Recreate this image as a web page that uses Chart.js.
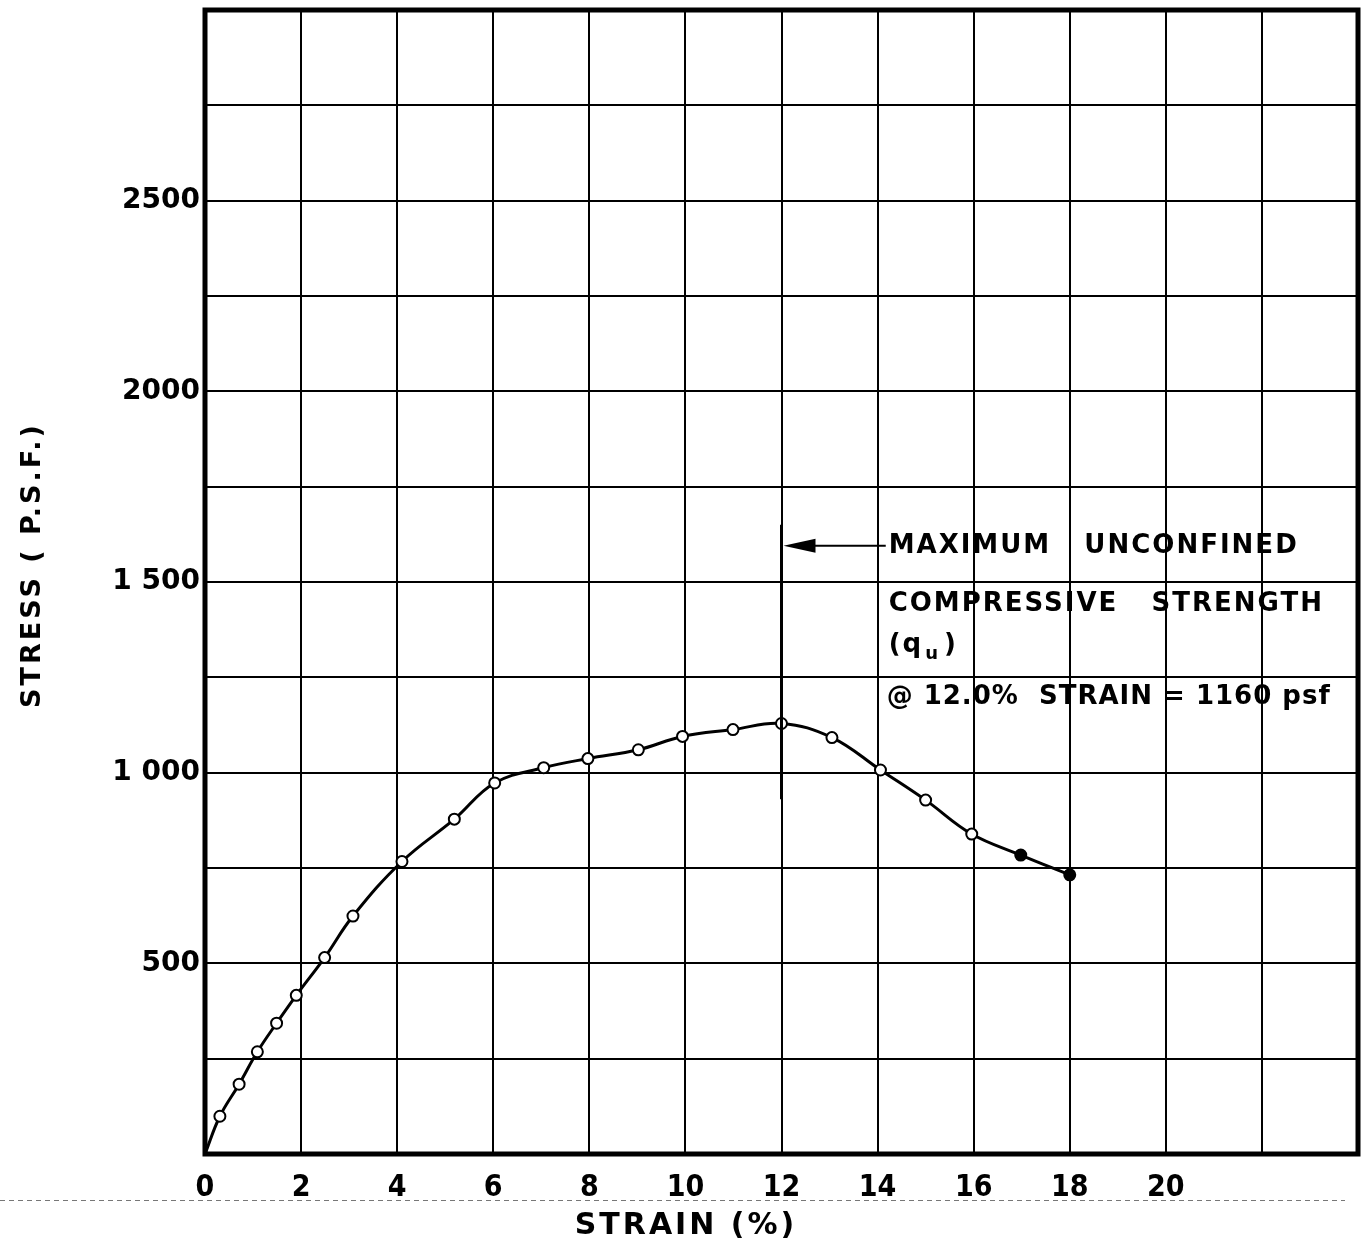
<!DOCTYPE html>
<html>
<head>
<meta charset="utf-8">
<script src="https://cdn.jsdelivr.net/npm/chart.js@4.4.1/dist/chart.umd.min.js"></script>
<style>
html, body { margin: 0; padding: 0; background: #fff; }
#wrap { width: 1370px; height: 1244px; }
</style>
</head>
<body>
<div id="wrap"><canvas id="stressChart" width="1370" height="1244"></canvas></div>
<script>
// unconfined compression test
const strain = [0.31, 0.71, 1.09, 1.49, 1.90, 2.49, 3.08, 4.10, 5.19, 6.03, 7.05, 7.97, 9.02, 9.94, 10.99, 12.0, 13.05, 14.06, 15.0, 15.96, 16.98, 18.0];
const stress = [99, 183, 268, 343, 416, 515, 624, 767, 878, 973, 1013, 1037, 1060, 1095, 1113, 1129, 1092, 1007, 928, 839, 784, 732];

const xTickValues = [0, 2, 4, 6, 8, 10, 12, 14, 16, 18, 20];
const xTickText = ['0', '2', '4', '6', '8', '10', '12', '14', '16', '18', '20'];
const yTickValues = [500, 1000, 1500, 2000, 2500];
const yTickText = ['500', '1 000', '1 500', '2000', '2500'];

const noteText = ['MAXIMUM   UNCONFINED', 'COMPRESSIVE   STRENGTH', '@ 12.0%  STRAIN = 1160 psf'];
const peakStrain = 12;

const FONT = '"DejaVu Sans", "Liberation Sans", sans-serif';
const NARROW = '"DejaVu Sans Condensed", "Liberation Sans Narrow", "DejaVu Sans", sans-serif';

// curve starts at the origin, the markers don't
const curve = [{ x: 0, y: 0 }].concat(strain.map((s, i) => ({ x: s, y: stress[i] })));
const marks = strain.map((s, i) => ({ x: s, y: stress[i] }));

const sheet = {
    id: 'sheet',
    afterDraw(chart) {
        const ctx = chart.ctx;
        const a = chart.chartArea;
        const xs = chart.scales.x, ys = chart.scales.y;
        ctx.save();

        // heavy frame
        ctx.strokeStyle = '#000';
        ctx.lineWidth = 5;
        ctx.strokeRect(a.left, a.top, a.right - a.left, a.bottom - a.top);

        // peak marker line + arrow
        const px = xs.getPixelForValue(peakStrain);
        ctx.lineWidth = 3;
        ctx.beginPath();
        ctx.moveTo(px, ys.getPixelForValue(1650));
        ctx.lineTo(px, ys.getPixelForValue(930));
        ctx.stroke();

        const ay = ys.getPixelForValue(1595);
        const ax = xs.getPixelForValue(14.17);
        ctx.lineWidth = 2;
        ctx.beginPath();
        ctx.moveTo(ax, ay);
        ctx.lineTo(px + 20, ay);
        ctx.stroke();
        ctx.fillStyle = '#000';
        ctx.beginPath();
        ctx.moveTo(px + 2, ay);
        ctx.lineTo(px + 34, ay - 7);
        ctx.lineTo(px + 34, ay + 7);
        ctx.closePath();
        ctx.fill();

        // note text
        const tx = xs.getPixelForValue(14.23);
        ctx.font = '600 26px ' + FONT;
        ctx.letterSpacing = '2px';
        ctx.textBaseline = 'middle';
        ctx.textAlign = 'left';
        ctx.fillText(noteText[0], tx, ay);
        ctx.fillText(noteText[1], tx, ys.getPixelForValue(1442));
        const qy = ys.getPixelForValue(1335);
        ctx.fillText('(q', tx, qy);
        let w = ctx.measureText('(q').width;
        ctx.font = '600 18px ' + FONT;
        ctx.fillText('u', tx + w + 2, qy + 9);
        let w2 = ctx.measureText('u').width;
        ctx.font = '600 26px ' + FONT;
        ctx.fillText(')', tx + w + w2 + 6, qy);
        ctx.letterSpacing = '1px';
        ctx.fillText(noteText[2], tx - 2, ys.getPixelForValue(1199));

        // axis titles
        ctx.font = '600 30px ' + FONT;
        ctx.letterSpacing = '3px';
        ctx.textAlign = 'center';
        ctx.fillText('STRAIN (%)', 686, 1226);
        ctx.save();
        ctx.font = '600 27px ' + FONT;
        ctx.translate(33, 565);
        ctx.rotate(-Math.PI / 2);
        ctx.fillText('STRESS ( P.S.F.)', 0, 0);
        ctx.restore();

        // faint dotted edge left by the scan
        ctx.letterSpacing = '0px';
        ctx.strokeStyle = '#777';
        ctx.lineWidth = 1;
        ctx.setLineDash([5, 4]);
        ctx.beginPath();
        ctx.moveTo(0, 1200.5);
        ctx.lineTo(1345, 1200.5);
        ctx.stroke();
        ctx.restore();
    }
};

const chart = new Chart(document.getElementById('stressChart'), {
    type: 'scatter',
    data: {
        datasets: [{
            data: marks,
            showLine: false,
            pointRadius: 5.5,
            pointBorderWidth: 2,
            pointBorderColor: '#000',
            pointBackgroundColor: marks.map((m, i) => i >= marks.length - 2 ? '#000' : '#fff'),
            order: 0
        }, {
            data: curve,
            showLine: true,
            borderColor: '#000',
            borderWidth: 3,
            pointRadius: 0,
            tension: 0.4,
            order: 1
        }]
    },
    options: {
        responsive: false,
        animation: false,
        devicePixelRatio: 1,
        layout: { padding: { top: 0, right: 12, left: 0, bottom: 0 } },
        plugins: { legend: { display: false }, tooltip: { enabled: false } },
        scales: {
            x: {
                type: 'linear',
                min: 0,
                max: 24,
                afterFit: (s) => { s.height = 90; s.paddingLeft = 0; s.paddingRight = 0; },
                ticks: {
                    stepSize: 2,
                    padding: 16,
                    maxRotation: 0,
                    color: '#000',
                    font: { family: NARROW, size: 30, weight: '600' },
                    callback: (v) => {
                        const i = xTickValues.indexOf(v);
                        return i < 0 ? '' : xTickText[i];
                    }
                },
                grid: { color: '#000', lineWidth: 2, drawTicks: false },
                border: { display: false }
            },
            y: {
                min: 0,
                max: 3000,
                afterFit: (s) => { s.width = 205; s.paddingTop = 10; s.paddingBottom = 0; },
                ticks: {
                    stepSize: 250,
                    padding: 5,
                    color: '#000',
                    font: { family: FONT, size: 28, weight: '600' },
                    callback: (v) => {
                        const i = yTickValues.indexOf(v);
                        return i < 0 ? '' : yTickText[i];
                    }
                },
                grid: { color: '#000', lineWidth: 2, drawTicks: false },
                border: { display: false }
            }
        }
    },
    plugins: [sheet]
});
</script>
</body>
</html>
